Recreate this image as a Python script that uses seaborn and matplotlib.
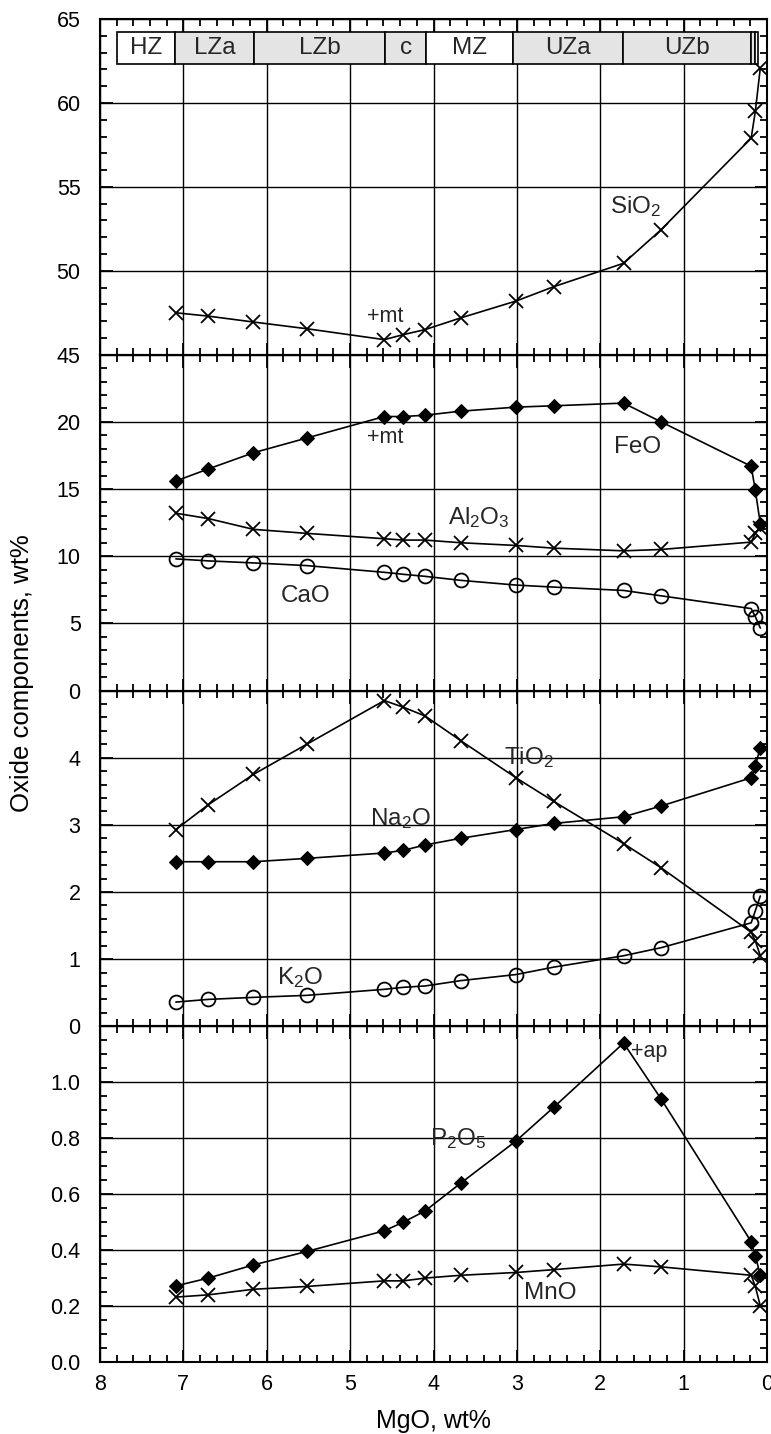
import matplotlib
matplotlib.use("Agg")
import matplotlib.pyplot as plt
import seaborn as sns
import pandas as pd
from matplotlib.ticker import MultipleLocator, FixedLocator
from matplotlib.patches import Rectangle

# ---------------- data ----------------
mgo = [7.09, 6.70, 6.16, 5.52, 4.59, 4.36, 4.10, 3.67, 3.01, 2.56, 1.72, 1.27, 0.19, 0.14, 0.08]

sio2 = [47.5, 47.3, 46.95, 46.55, 45.9, 46.2, 46.5, 47.2, 48.2, 49.05, 50.45, 52.45, 57.9, 59.5, 62.1]

feo = [15.6, 16.5, 17.7, 18.8, 20.4, 20.4, 20.5, 20.8, 21.1, 21.2, 21.4, 20.0, 16.7, 14.9, 12.4]
al2o3 = [13.2, 12.8, 12.0, 11.7, 11.3, 11.2, 11.2, 11.0, 10.8, 10.6, 10.4, 10.5, 11.05, 11.7, 12.1]
cao = [9.8, 9.65, 9.5, 9.3, 8.8, 8.65, 8.5, 8.2, 7.85, 7.7, 7.45, 7.05, 6.1, 5.5, 4.65]

tio2 = [2.93, 3.3, 3.75, 4.2, 4.85, 4.75, 4.62, 4.25, 3.7, 3.35, 2.72, 2.36, 1.4, 1.27, 1.05]
na2o = [2.45, 2.45, 2.45, 2.5, 2.58, 2.62, 2.7, 2.8, 2.93, 3.02, 3.12, 3.28, 3.7, 3.88, 4.15]
k2o = [0.36, 0.40, 0.43, 0.46, 0.55, 0.58, 0.60, 0.68, 0.77, 0.88, 1.05, 1.17, 1.54, 1.72, 1.94]

p2o5 = [0.272, 0.30, 0.347, 0.395, 0.469, 0.50, 0.54, 0.64, 0.79, 0.91, 1.14, 0.94, 0.43, 0.38, 0.31]
mno = [0.232, 0.24, 0.26, 0.27, 0.29, 0.29, 0.30, 0.31, 0.32, 0.33, 0.35, 0.34, 0.31, 0.27, 0.20]

zone_names = ["HZ", "LZa", "LZb", "c", "MZ", "UZa", "UZb", "", ""]
zone_left = [7.795, 7.10, 6.15, 4.58, 4.09, 3.05, 1.73, 0.19, 0.14]
zone_right = [7.10, 6.15, 4.58, 4.09, 3.05, 1.73, 0.19, 0.14, 0.11]
zone_fill = ["white", "#e4e4e4", "#e4e4e4", "#e4e4e4", "white", "#e4e4e4", "#e4e4e4", "#e4e4e4", "white"]

# ---------------- style ----------------
sns.set_theme(style="white")
plt.rcParams["font.family"] = ["Liberation Sans", "DejaVu Sans"]
plt.rcParams["mathtext.default"] = "regular"
plt.rcParams["axes.linewidth"] = 1.5

fig, axes = plt.subplots(4, 1, figsize=(7.71, 14.34), dpi=100, sharex=True)
fig.subplots_adjust(left=100/771, right=767/771, top=1-19/1434, bottom=1-1362/1434, hspace=0)

df = pd.DataFrame({"mgo": mgo, "sio2": sio2, "feo": feo, "al2o3": al2o3, "cao": cao,
                   "tio2": tio2, "na2o": na2o, "k2o": k2o, "p2o5": p2o5, "mno": mno})

def series(ax, col, kind):
    kw = dict(color="black", lw=1.2, sort=False, estimator=None, legend=False)
    if kind == "x":
        sns.lineplot(data=df, x="mgo", y=col, ax=ax, marker="x", markersize=10.5,
                     markeredgewidth=1.3, markeredgecolor="black", **kw)
    elif kind == "D":
        sns.lineplot(data=df, x="mgo", y=col, ax=ax, marker="D", markersize=7.5,
                     markerfacecolor="black", markeredgecolor="black", **kw)
    else:
        sns.lineplot(data=df, x="mgo", y=col, ax=ax, marker="o", markersize=10,
                     markerfacecolor="none", markeredgecolor="black", markeredgewidth=1.3, **kw)

series(axes[0], "sio2", "x")
series(axes[1], "feo", "D")
series(axes[1], "al2o3", "x")
series(axes[1], "cao", "o")
series(axes[2], "tio2", "x")
series(axes[2], "na2o", "D")
series(axes[2], "k2o", "o")
series(axes[3], "p2o5", "D")
series(axes[3], "mno", "x")

limits = [(45, 65), (0, 25), (0, 5), (0, 1.2)]
majors = [[45, 50, 55, 60, 65], [0, 5, 10, 15, 20, 25], [0, 1, 2, 3, 4, 5], [0, 0.2, 0.4, 0.6, 0.8, 1.0, 1.2]]
labels = [["45", "50", "55", "60", "65"], ["0", "5", "10", "15", "20", ""], ["0", "1", "2", "3", "4", ""],
          ["0.0", "0.2", "0.4", "0.6", "0.8", "1.0", ""]]
minors = [1, 1, 0.2, 0.05]

for ax, lim, mj, lb, mn in zip(axes, limits, majors, labels, minors):
    ax.set_ylim(*lim)
    ax.yaxis.set_major_locator(FixedLocator(mj))
    ax.set_yticklabels(lb)
    ax.yaxis.set_minor_locator(MultipleLocator(mn))
    ax.set_xlim(8, 0)
    ax.xaxis.set_major_locator(MultipleLocator(1))
    ax.xaxis.set_minor_locator(MultipleLocator(0.2))
    ax.grid(True, which="major", color="black", lw=1.0)
    ax.tick_params(which="both", direction="in", top=True, right=True, left=True, bottom=True,
                   color="black", width=1.3)
    ax.tick_params(which="major", length=9, labelsize=15.5, labelcolor="black")
    ax.tick_params(axis="y", which="major", pad=14)
    ax.tick_params(axis="x", which="major", pad=9)
    ax.tick_params(which="minor", length=5)
    ax.set_ylabel("")
    ax.set_xlabel("")
    for s in ax.spines.values():
        s.set_color("black")
        s.set_linewidth(1.5)

axes[3].set_xticks([8, 7, 6, 5, 4, 3, 2, 1, 0])
axes[3].set_xticklabels(["8", "7", "6", "5", "4", "3", "2", "1", "0"])
axes[3].set_xlabel("MgO, wt%", fontsize=18, labelpad=10, color="black")
fig.text(22/771, 1-673/1434, "Oxide components, wt%", rotation=90, fontsize=18.5,
         ha="center", va="center", color="black")

# zone bar
ax0 = axes[0]
for nm, l, r, fc in zip(zone_names, zone_left, zone_right, zone_fill):
    ax0.add_patch(Rectangle((r, 62.32), l - r, 64.24 - 62.32, facecolor=fc,
                            edgecolor="black", lw=1.2, zorder=5))
    if nm:
        ax0.text((l + r) / 2, 63.25, nm, ha="center", va="center", fontsize=17.5, zorder=6)

# labels
fs = 17.5
axes[0].text(1.27, 53.8, "SiO$_2$", fontsize=fs, ha="right", va="center")
axes[0].text(4.58, 47.25, "+mt", fontsize=15.5, ha="center", va="center")
axes[1].text(4.58, 18.85, "+mt", fontsize=15.5, ha="center", va="center")
axes[1].text(1.27, 18.15, "FeO", fontsize=fs, ha="right", va="center")
axes[1].text(3.45, 12.9, "Al$_2$O$_3$", fontsize=fs, ha="center", va="center")
axes[1].text(5.54, 7.0, "CaO", fontsize=fs, ha="center", va="center")
axes[2].text(2.85, 4.0, "TiO$_2$", fontsize=fs, ha="center", va="center")
axes[2].text(4.4, 3.1, "Na$_2$O", fontsize=fs, ha="center", va="center")
axes[2].text(5.6, 0.72, "K$_2$O", fontsize=fs, ha="center", va="center")
axes[3].text(3.7, 0.8, "P$_2$O$_5$", fontsize=fs, ha="center", va="center")
axes[3].text(1.41, 1.108, "+ap", fontsize=15.5, ha="center", va="center")
axes[3].text(2.6, 0.245, "MnO", fontsize=fs, ha="center", va="center")

fig.savefig("out.png", dpi=100, facecolor="white")
